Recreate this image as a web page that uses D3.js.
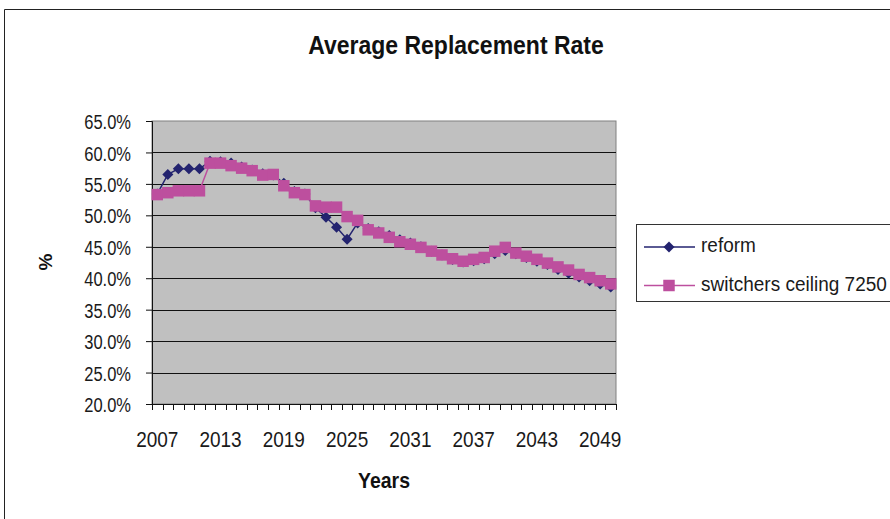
<!DOCTYPE html>
<html>
<head>
<meta charset="utf-8">
<script src="https://cdn.jsdelivr.net/npm/d3@7"></script>
<style>
  body { margin: 0; background: #fff; }
  svg { display: block; font-family: "Liberation Sans", Arial, sans-serif; }
</style>
</head>
<body>
<svg id="chart" width="890" height="519"></svg>
<script>
// chart data
let years = [2007, 2008, 2009, 2010, 2011, 2012, 2013, 2014, 2015, 2016, 2017,
    2018, 2019, 2020, 2021, 2022, 2023, 2024, 2025, 2026, 2027, 2028,
    2029, 2030, 2031, 2032, 2033, 2034, 2035, 2036, 2037, 2038, 2039,
    2040, 2041, 2042, 2043, 2044, 2045, 2046, 2047, 2048, 2049, 2050];

let reform = [53.4, 56.5, 57.4, 57.4, 57.4, 58.6, 58.5, 58.3, 57.7, 57.2, 56.6,
    56.4, 55.1, 53.8, 53.4, 51.2, 49.7, 48.1, 46.2, 48.8, 47.9, 47.4,
    46.8, 46.1, 45.6, 45.0, 44.3, 43.7, 43.0, 42.6, 42.8, 43.1, 43.9,
    44.4, 43.9, 43.3, 42.7, 42.2, 41.4, 40.8, 40.2, 39.6, 39.1, 38.6];

let switchers = [53.3, 53.6, 53.9, 53.9, 53.9, 58.3, 58.3, 57.9, 57.5, 57.1, 56.4,
    56.5, 54.7, 53.6, 53.3, 51.5, 51.3, 51.3, 49.8, 49.2, 47.7, 47.2,
    46.5, 45.8, 45.4, 44.9, 44.3, 43.7, 43.1, 42.7, 43.0, 43.3, 44.3,
    44.9, 44.0, 43.5, 43.0, 42.4, 41.8, 41.3, 40.6, 40.1, 39.6, 39.1];

let yTicks = [20, 25, 30, 35, 40, 45, 50, 55, 60, 65];
let xLabelYears = [2007, 2013, 2019, 2025, 2031, 2037, 2043, 2049];
let seriesNames = ["reform", "switchers ceiling 7250"];

const blue = "#23236f";
const pink = "#bd4f9e";

const svg = d3.select("#chart");
const plot = {left: 152, right: 616, top: 121, bottom: 404};

const x = d3.scaleBand().domain(years).range([plot.left, plot.right]).padding(0);
const xIdx = d3.scaleLinear().domain([0, years.length]).range([plot.left, plot.right]);
const y = d3.scaleLinear().domain([20, 65]).range([plot.bottom, plot.top]);
const cx = d => x(d) + x.bandwidth() / 2;

// outer chart border (runs off the right / bottom of the picture)
svg.append("path")
    .attr("d", "M4.5,519 V9.5 H895")
    .attr("fill", "none")
    .attr("stroke", "#222")
    .attr("stroke-width", 1);

// title
svg.append("text")
    .attr("transform", "translate(456,54) scale(1,1.12)")
    .attr("text-anchor", "middle")
    .attr("font-weight", "bold")
    .attr("font-size", 23)
    .attr("fill", "#111")
    .text("Average Replacement Rate");

// plot background
svg.append("rect")
    .attr("x", plot.left)
    .attr("y", plot.top)
    .attr("width", plot.right - plot.left)
    .attr("height", plot.bottom - plot.top)
    .attr("fill", "#c0c0c0")
    .attr("stroke", "#808080")
    .attr("stroke-width", 1);

// gridlines
svg.append("g")
    .selectAll("line")
    .data(yTicks.filter(t => t > 20 && t < 65))
    .join("line")
    .attr("x1", plot.left)
    .attr("x2", plot.right)
    .attr("y1", d => Math.round(y(d)) + 0.5)
    .attr("y2", d => Math.round(y(d)) + 0.5)
    .attr("stroke", "#111")
    .attr("stroke-width", 1);

// y axis
const yAxis = svg.append("g")
    .attr("transform", `translate(${plot.left},0)`)
    .call(d3.axisLeft(y).tickValues(yTicks).tickSize(6).tickPadding(15)
        .tickFormat(d => d.toFixed(1) + "%"));
yAxis.select(".domain").attr("stroke", "#111");
yAxis.selectAll(".tick line").attr("stroke", "#111");
yAxis.selectAll("text")
    .attr("font-family", "Liberation Sans, Arial, sans-serif")
    .attr("font-size", 16.5)
    .attr("fill", "#1a1a1a")
    .attr("dy", "0.36em")
    .attr("transform", "scale(1,1.28)");

// x axis: tick marks between categories
svg.append("g")
    .selectAll("line")
    .data(d3.range(years.length + 1))
    .join("line")
    .attr("x1", d => Math.round(xIdx(d)) + 0.5)
    .attr("x2", d => Math.round(xIdx(d)) + 0.5)
    .attr("y1", plot.bottom)
    .attr("y2", plot.bottom + 6)
    .attr("stroke", "#111");
svg.append("line")
    .attr("x1", plot.left)
    .attr("x2", plot.right)
    .attr("y1", plot.bottom + 0.5)
    .attr("y2", plot.bottom + 0.5)
    .attr("stroke", "#111");

svg.append("g")
    .selectAll("text")
    .data(xLabelYears)
    .join("text")
    .attr("transform", d => `translate(${cx(d)},447) scale(1,1.2)`)
    .attr("text-anchor", "middle")
    .attr("font-size", 19)
    .attr("fill", "#1a1a1a")
    .text(d => d);

// axis titles
svg.append("text")
    .attr("transform", "translate(384,488) scale(1,1.1)")
    .attr("text-anchor", "middle")
    .attr("font-weight", "bold")
    .attr("font-size", 19.5)
    .attr("fill", "#111")
    .text("Years");

svg.append("text")
    .attr("transform", "translate(52,262) rotate(-90)")
    .attr("text-anchor", "middle")
    .attr("font-weight", "bold")
    .attr("font-size", 19)
    .attr("fill", "#111")
    .text("%");

// series
let line = d3.line()
    .x(d => cx(d.year))
    .y(d => y(d.value));

const diamond = d3.symbol().type(d3.symbolDiamond2).size(78);
const square = d3.symbol().type(d3.symbolSquare).size(132);

let reformData = years.map((yr, i) => ({year: yr, value: reform[i]}));
let switcherData = years.map((yr, i) => ({year: yr, value: switchers[i]}));

svg.append("path")
    .datum(reformData)
    .attr("d", line)
    .attr("fill", "none")
    .attr("stroke", blue)
    .attr("stroke-width", 1.5);

svg.append("g")
    .selectAll("path")
    .data(reformData)
    .join("path")
    .attr("transform", d => `translate(${cx(d.year)},${y(d.value)})`)
    .attr("d", diamond)
    .attr("fill", blue);

svg.append("path")
    .datum(switcherData)
    .attr("d", line)
    .attr("fill", "none")
    .attr("stroke", pink)
    .attr("stroke-width", 1.5);

svg.append("g")
    .selectAll("path")
    .data(switcherData)
    .join("path")
    .attr("transform", d => `translate(${cx(d.year)},${y(d.value)})`)
    .attr("d", square)
    .attr("fill", pink);

// legend
const legend = svg.append("g");
legend.append("rect")
    .attr("x", 636.5)
    .attr("y", 224.5)
    .attr("width", 270)
    .attr("height", 77)
    .attr("fill", "#fff")
    .attr("stroke", "#333")
    .attr("stroke-width", 1);

const legendRows = [
    {name: seriesNames[0], color: blue, sym: diamond, y: 247},
    {name: seriesNames[1], color: pink, sym: square, y: 285.5}
];

legendRows.forEach(r => {
    legend.append("line")
        .attr("x1", 644)
        .attr("x2", 695)
        .attr("y1", r.y)
        .attr("y2", r.y)
        .attr("stroke", r.color)
        .attr("stroke-width", 1.5);
    legend.append("path")
        .attr("transform", `translate(669,${r.y})`)
        .attr("d", r.sym)
        .attr("fill", r.color);
    legend.append("text")
        .attr("transform", `translate(701,${r.y + 5}) scale(1,1.1)`)
        .attr("font-size", 19)
        .attr("fill", "#1a1a1a")
        .text(r.name);
});
</script>
</body>
</html>
